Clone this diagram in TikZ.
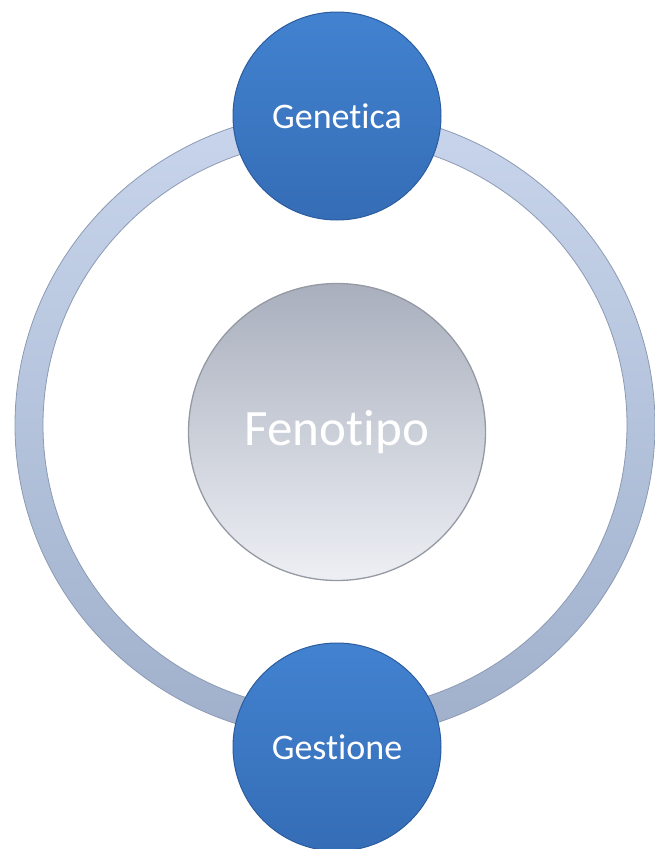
\documentclass[tikz,border=0pt]{standalone}
\usepackage{fontspec}
\setmainfont{Carlito}[Ligatures={NoCommon,NoRequired,NoContextual}]
\definecolor{ringtop}{HTML}{C8D5EC}
\definecolor{ringbot}{HTML}{A0B0CB}
\definecolor{ringedge}{HTML}{8C9AB3}
\definecolor{bluetop}{HTML}{4282D0}
\definecolor{bluebot}{HTML}{356DB6}
\definecolor{blueedge}{HTML}{2C5C9E}
\definecolor{graytop}{HTML}{A9AFBD}
\definecolor{graybot}{HTML}{EDEFF4}
\definecolor{grayedge}{HTML}{9499A3}
\tikzset{
  bluecirc/.style={circle, minimum size=208pt, inner sep=0pt, top color=bluetop, bottom color=bluebot,
    draw=blueedge, line width=1pt, text=white, font=\fontsize{36}{40}\selectfont},
  graycirc/.style={circle, minimum size=297pt, inner sep=0pt, top color=graytop, bottom color=graybot,
    draw=grayedge, line width=1.3pt, text=white, font=\fontsize{51}{56}\selectfont},
}
\begin{document}
\begin{tikzpicture}[x=1pt,y=-1pt]
\useasboundingbox (0,0) rectangle (655,849);
\coordinate (rc) at (335,425);
% ring
\shade[top color=ringtop, bottom color=ringbot, even odd rule]
  (rc) ellipse [x radius=320pt, y radius=314pt]
  (rc) ellipse [x radius=292pt, y radius=286pt];
\draw[ringedge, line width=0.8pt] (rc) ellipse [x radius=320pt, y radius=314pt];
\draw[ringedge, line width=0.8pt] (rc) ellipse [x radius=292pt, y radius=286pt];
% nodes
\node[graycirc] (fen) at (337,432) {Fenotipo};
\node[bluecirc] (gen) at (337,116) {Genetica};
\node[bluecirc] (ges) at (337,747) {Gestione};
\end{tikzpicture}
\end{document}
